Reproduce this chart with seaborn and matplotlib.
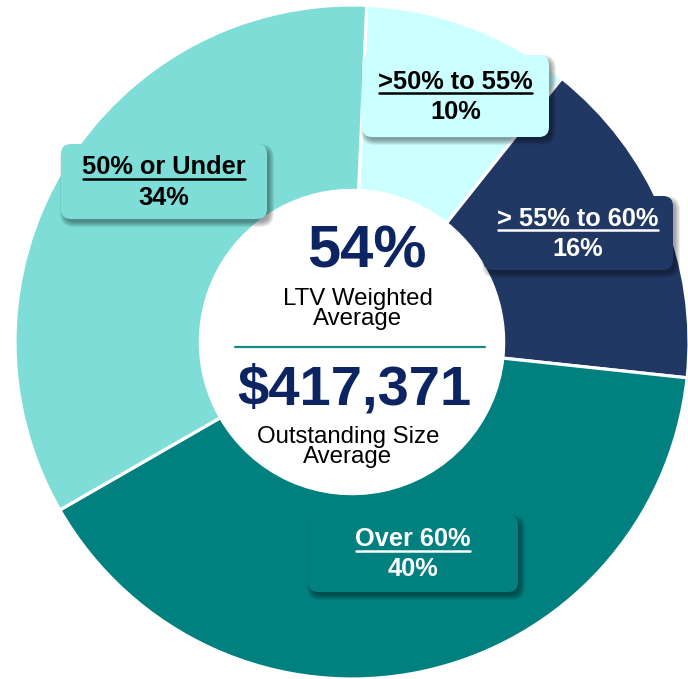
import matplotlib
matplotlib.use("Agg")
import matplotlib.pyplot as plt
import seaborn as sns
from matplotlib.patches import FancyBboxPatch
from matplotlib.lines import Line2D
from matplotlib.transforms import IdentityTransform

# ---- data ----
categories = [">50% to 55%", "> 55% to 60%", "Over 60%", "50% or Under"]
shares = [10, 16, 40, 34]
colors = ["#CCFFFF", "#213865", "#00807E", "#7EDDD7"]
text_colors = ["black", "white", "white", "black"]
ltv_avg = "54%"
ltv_caption = "LTV Weighted\nAverage"
size_avg = "$417,371"
size_caption = "Outstanding Size\nAverage"

# ---- layout constants (pixel positions in a 688x679 canvas, from top-left) ----
W, H = 688, 679
CX, CY, R = 352, 342, 337
box_rects = {  # x0, y0(top), x1, y1(bottom)
    ">50% to 55%": (362, 55, 549, 137),
    "> 55% to 60%": (483, 196, 673, 270),
    "Over 60%": (308, 515, 518, 592),
    "50% or Under": (61, 144, 267, 219),
}

sns.set_theme(style="white")
plt.rcParams['font.family'] = ['Liberation Sans', 'DejaVu Sans']

fig = plt.figure(figsize=(W / 100, H / 100), dpi=100)
ax = fig.add_axes([0, 0, 1, 1])

wedges, _ = ax.pie(shares, colors=colors, startangle=87.5, counterclock=False,
                   radius=1.0, center=(0, 0),
                   wedgeprops=dict(width=0.55, edgecolor="white", linewidth=2.3))
ax.set_aspect("auto")
ax.set_xlim(-CX / R, (W - CX) / R)
ax.set_ylim(-(H - CY) / R, CY / R)
ax.axis("off")

IDT = IdentityTransform()


def px(x, y):
    """pixel (from top-left) -> axes fraction"""
    return x / W, 1 - y / H


underlines = []
for cat, share, col, tcol in zip(categories, shares, colors, text_colors):
    x0, y0, x1, y1 = box_rects[cat]
    bw, bh = x1 - x0, y1 - y0
    bx, by = x0, H - y1  # display coords, bottom-left
    # soft shadow
    for k in range(6):
        sh = FancyBboxPatch((bx + 3 - k + 1, by - 4 - k + 1), bw + 2 * k - 2, bh + 2 * k - 2,
                            boxstyle=f"round,pad=0,rounding_size={9 + k}",
                            transform=IDT, facecolor="black", edgecolor="none",
                            alpha=0.07, zorder=4)
        ax.add_artist(sh)
    box = FancyBboxPatch((bx, by), bw, bh, transform=IDT,
                         boxstyle="round,pad=0,rounding_size=10",
                         facecolor=col, edgecolor="none", zorder=5)
    ax.add_artist(box)
    cxp, cyp = (x0 + x1) / 2, (y0 + y1) / 2
    t1 = ax.text(*px(cxp, cyp - 14), cat, transform=ax.transAxes, ha="center", va="center",
                 fontsize=18.3, fontweight="bold", color=tcol, zorder=6)
    ax.text(*px(cxp, cyp + 16), f"{share}%", transform=ax.transAxes, ha="center", va="center",
            fontsize=18.3, fontweight="bold", color=tcol, zorder=6)
    underlines.append((t1, tcol))

# center texts
navy = "#0C2462"
ax.text(*px(367, 252), ltv_avg, transform=ax.transAxes, ha="center", va="center",
        fontsize=43, fontweight="bold", color=navy, zorder=6)
ax.text(*px(358, 309), ltv_caption, transform=ax.transAxes, ha="center", va="center",
        fontsize=17.3, color="black", linespacing=0.92, zorder=6)
ax.add_line(Line2D([235 / W, 485 / W], [1 - 347 / H, 1 - 347 / H], transform=ax.transAxes,
                   color="#1A8A88", linewidth=1.6, zorder=6))
ax.text(*px(354, 391), size_avg, transform=ax.transAxes, ha="center", va="center",
        fontsize=40.5, fontweight="bold", color=navy, zorder=6)
ax.text(*px(348, 447), size_caption, transform=ax.transAxes, ha="center", va="center",
        fontsize=17.3, color="black", linespacing=0.92, zorder=6)

# underline first label lines
fig.canvas.draw()
renderer = fig.canvas.get_renderer()
for t, tcol in underlines:
    bb = t.get_window_extent(renderer)
    yl = bb.y0 + 1
    ax.add_line(Line2D([bb.x0 + 1, bb.x1 - 1], [yl, yl], transform=IDT,
                       color=tcol, linewidth=1.8, zorder=7))

fig.savefig("out.png", dpi=100)
